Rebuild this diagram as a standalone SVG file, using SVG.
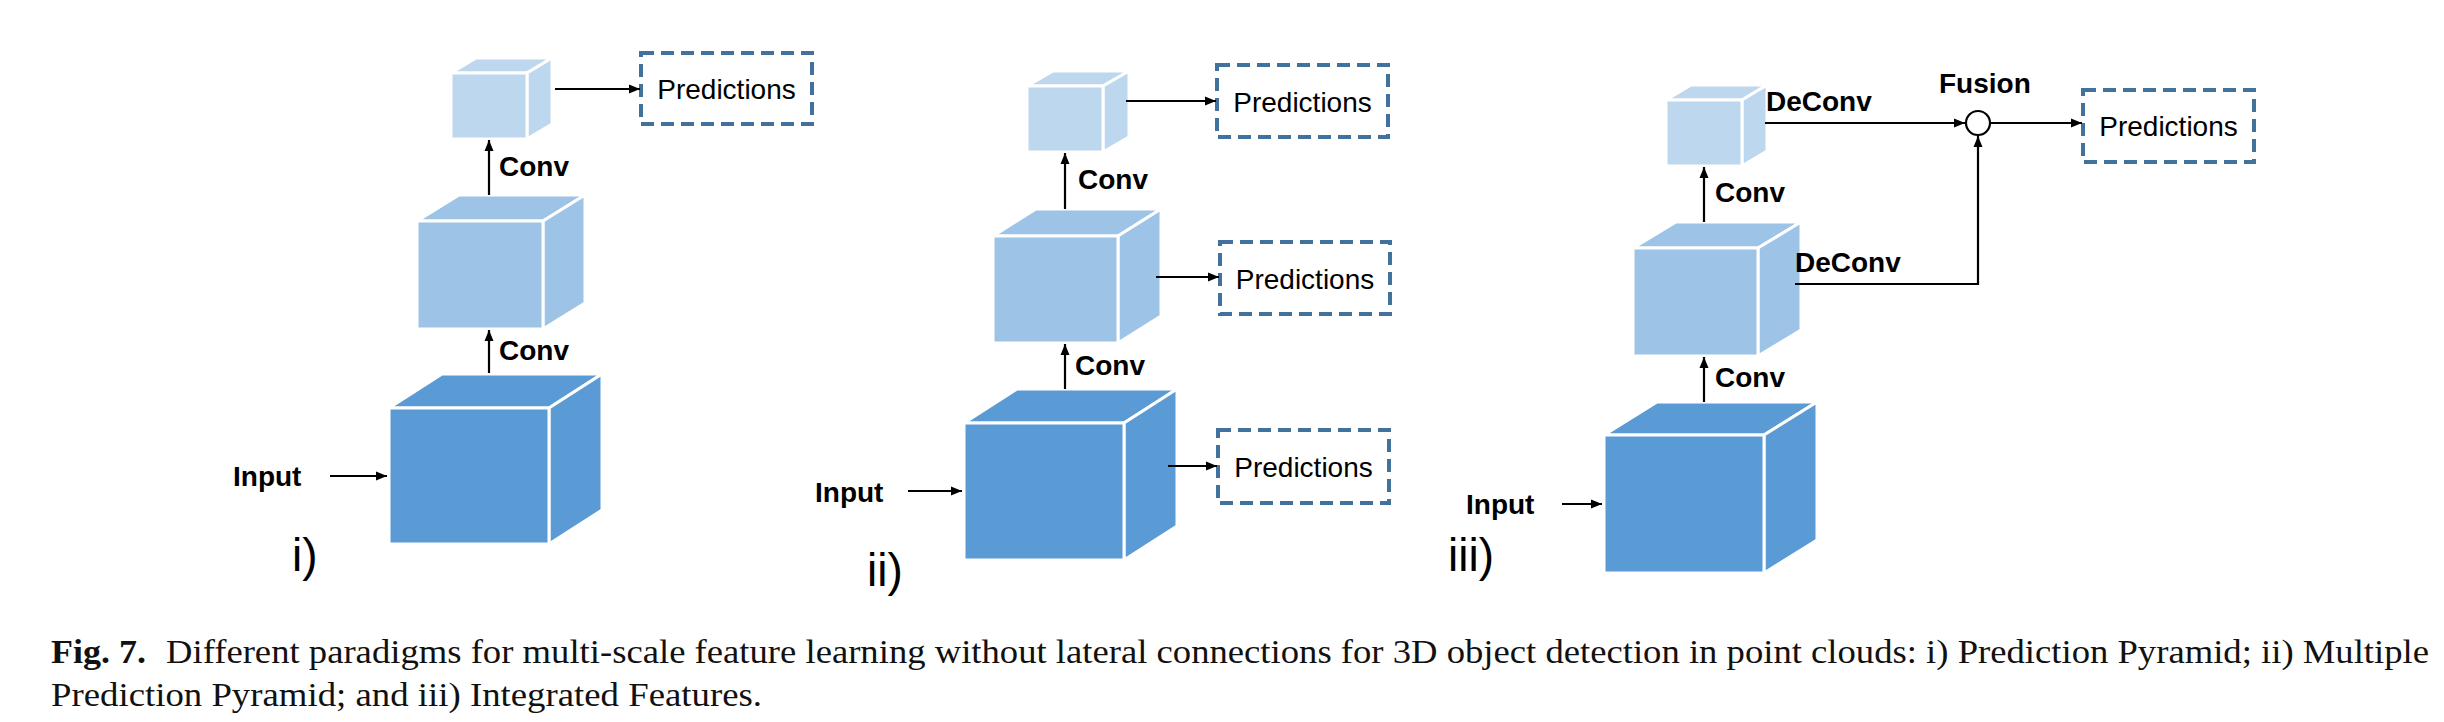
<svg xmlns="http://www.w3.org/2000/svg" width="2444" height="722" viewBox="0 0 2444 722">
<style>
.bg{fill:#ffffff}
.c1{fill:#5b9bd5;stroke:#ffffff;stroke-width:3;stroke-linejoin:miter}
.c2{fill:#9dc3e6;stroke:#ffffff;stroke-width:3;stroke-linejoin:miter}
.c3{fill:#bdd7ee;stroke:#ffffff;stroke-width:3;stroke-linejoin:miter}
.box{fill:#ffffff;stroke:#41719c;stroke-width:4;stroke-dasharray:13 7}
.lbl{font-family:"Liberation Sans",Arial,sans-serif;font-weight:bold;font-size:28px;fill:#000}
.pred{font-family:"Liberation Sans",Arial,sans-serif;font-size:28px;fill:#000}
.num{font-family:"Liberation Sans",Arial,sans-serif;font-size:46px;fill:#000}
.cap{font-family:"Liberation Serif","Times New Roman",serif;font-size:33px;fill:#111}
.ln{fill:none;stroke:#000;stroke-width:2.2;marker-end:url(#ah)}
.ln0{fill:none;stroke:#000;stroke-width:2.2}
</style>
<defs>
<marker id="ah" markerUnits="userSpaceOnUse" markerWidth="12" markerHeight="10" refX="11" refY="5" orient="auto">
<path d="M0,0.5 L11,5 L0,9.5 z" fill="#000"/>
</marker>
</defs>
<rect class="bg" x="0" y="0" width="2444" height="722"/>

<!-- Panel i -->
<g id="i-cube-large">
<polygon class="c1" points="389,408 442,374 602,374 549,408"/>
<polygon class="c1" points="549,408 602,374 602,510 549,544"/>
<rect class="c1" x="389" y="408" width="160" height="136"/>
</g>
<g id="i-cube-medium">
<polygon class="c2" points="417,221 459,195 585,195 543,221"/>
<polygon class="c2" points="543,221 585,195 585,303 543,329"/>
<rect class="c2" x="417" y="221" width="126" height="108"/>
</g>
<g id="i-cube-small">
<polygon class="c3" points="451,73 476,58 552,58 527,73"/>
<polygon class="c3" points="527,73 552,58 552,124 527,139"/>
<rect class="c3" x="451" y="73" width="76" height="66"/>
</g>
<g id="i-pred">
<rect class="box" x="641" y="53" width="171" height="71"/>
<text class="pred" x="726.5" y="99" text-anchor="middle">Predictions</text>
</g>
<g id="i-input"><text class="lbl" x="233" y="486">Input</text></g>
<g id="i-label"><text class="num" x="292" y="571">i)</text></g>

<!-- Panel ii -->
<g id="ii-cube-large">
<polygon class="c1" points="964,423 1017,389 1177,389 1124,423"/>
<polygon class="c1" points="1124,423 1177,389 1177,526 1124,560"/>
<rect class="c1" x="964" y="423" width="160" height="137"/>
</g>
<g id="ii-cube-medium">
<polygon class="c2" points="993,236 1036,209 1161,209 1118,236"/>
<polygon class="c2" points="1118,236 1161,209 1161,316 1118,343"/>
<rect class="c2" x="993" y="236" width="125" height="107"/>
</g>
<g id="ii-cube-small">
<polygon class="c3" points="1027,86 1053,71 1129,71 1103,86"/>
<polygon class="c3" points="1103,86 1129,71 1129,137 1103,152"/>
<rect class="c3" x="1027" y="86" width="76" height="66"/>
</g>
<g id="ii-pred-top">
<rect class="box" x="1217" y="65" width="171" height="72"/>
<text class="pred" x="1302.5" y="112" text-anchor="middle">Predictions</text>
</g>
<g id="ii-pred-mid">
<rect class="box" x="1220" y="242" width="170" height="72"/>
<text class="pred" x="1305" y="289" text-anchor="middle">Predictions</text>
</g>
<g id="ii-pred-bot">
<rect class="box" x="1218" y="430" width="171" height="73"/>
<text class="pred" x="1303.5" y="477" text-anchor="middle">Predictions</text>
</g>
<g id="ii-input"><text class="lbl" x="815" y="502">Input</text></g>
<g id="ii-label"><text class="num" x="867" y="586">ii)</text></g>

<!-- Panel iii -->
<g id="iii-cube-large">
<polygon class="c1" points="1604,435 1657,402 1817,402 1764,435"/>
<polygon class="c1" points="1764,435 1817,402 1817,540 1764,573"/>
<rect class="c1" x="1604" y="435" width="160" height="138"/>
</g>
<g id="iii-cube-medium">
<polygon class="c2" points="1633,248 1676,222 1801,222 1758,248"/>
<polygon class="c2" points="1758,248 1801,222 1801,330 1758,356"/>
<rect class="c2" x="1633" y="248" width="125" height="108"/>
</g>
<g id="iii-cube-small">
<polygon class="c3" points="1666,100 1691,85 1767,85 1742,100"/>
<polygon class="c3" points="1742,100 1767,85 1767,151 1742,166"/>
<rect class="c3" x="1666" y="100" width="76" height="66"/>
</g>
<g id="iii-fusion">
<circle cx="1978" cy="123" r="12" fill="#fff" stroke="#000" stroke-width="2.2"/>
<text class="lbl" x="1939" y="93">Fusion</text>
</g>
<g id="iii-pred">
<rect class="box" x="2083" y="90" width="171" height="72"/>
<text class="pred" x="2168.5" y="136" text-anchor="middle">Predictions</text>
</g>
<g id="iii-input"><text class="lbl" x="1466" y="514">Input</text></g>
<g id="iii-label"><text class="num" x="1448" y="571">iii)</text></g>

<!-- Connectors -->
<g id="connectors">
<line class="ln" x1="330" y1="476" x2="387" y2="476"/>
<line class="ln" x1="489" y1="373" x2="489" y2="330"/>
<line class="ln" x1="489" y1="195" x2="489" y2="140"/>
<line class="ln" x1="555" y1="89" x2="640" y2="89"/>

<line class="ln" x1="908" y1="491" x2="962" y2="491"/>
<line class="ln" x1="1065" y1="389" x2="1065" y2="344"/>
<line class="ln" x1="1065" y1="209" x2="1065" y2="153"/>
<line class="ln" x1="1126" y1="101" x2="1216" y2="101"/>
<line class="ln" x1="1156" y1="277" x2="1219" y2="277"/>
<line class="ln" x1="1168" y1="466" x2="1217" y2="466"/>

<line class="ln" x1="1562" y1="504" x2="1602" y2="504"/>
<line class="ln" x1="1704" y1="402" x2="1704" y2="357"/>
<line class="ln" x1="1704" y1="222" x2="1704" y2="167"/>
<line class="ln" x1="1765" y1="123" x2="1965" y2="123"/>
<polyline class="ln" points="1795,284 1978,284 1978,136"/>
<line class="ln" x1="1990" y1="123" x2="2082" y2="123"/>
</g>

<g id="conn-labels">
<text class="lbl" x="499" y="176">Conv</text>
<text class="lbl" x="499" y="360">Conv</text>
<text class="lbl" x="1078" y="189">Conv</text>
<text class="lbl" x="1075" y="375">Conv</text>
<text class="lbl" x="1715" y="202">Conv</text>
<text class="lbl" x="1715" y="387">Conv</text>
<text class="lbl" x="1766" y="111">DeConv</text>
<text class="lbl" x="1795" y="272">DeConv</text>
</g>

<!-- Caption -->
<g id="caption">
<text class="cap" x="51" y="663" font-weight="bold" textLength="95" lengthAdjust="spacingAndGlyphs">Fig. 7.</text>
<text class="cap" x="166" y="663" textLength="2263" lengthAdjust="spacingAndGlyphs">Different paradigms for multi-scale feature learning without lateral connections for 3D object detection in point clouds: i) Prediction Pyramid; ii) Multiple</text>
<text class="cap" x="51" y="706" textLength="711" lengthAdjust="spacingAndGlyphs">Prediction Pyramid; and iii) Integrated Features.</text>
</g>
</svg>
